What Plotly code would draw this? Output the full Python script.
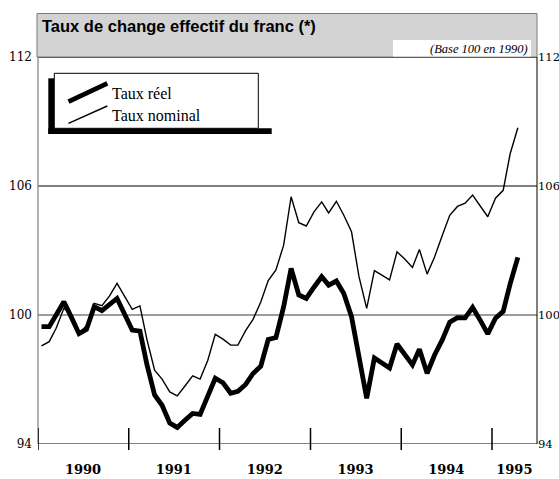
import plotly.graph_objects as go
import pandas as pd

# ---- data (monthly, Jan 1990 - Apr 1995) ----
months = pd.date_range("1990-01-01", periods=64, freq="MS") + pd.Timedelta(days=14)

taux_reel = [99.46, 99.46, 100.0, 100.62, 99.9, 99.13, 99.33, 100.39, 100.2, 100.47,
             100.77, 100.05, 99.3, 99.25, 97.7, 96.28, 95.8, 94.97, 94.77, 95.1,
             95.42, 95.38, 96.2, 97.06, 96.85, 96.36, 96.45, 96.77, 97.28, 97.62,
             98.86, 98.95, 100.39, 102.17, 100.93, 100.77, 101.29, 101.78, 101.39, 101.58,
             101.0, 99.92, 98.06, 96.13, 98.0, 97.78, 97.54, 98.65, 98.15, 97.68,
             98.41, 97.29, 98.14, 98.84, 99.67, 99.88, 99.87, 100.35, 99.75, 99.12,
             99.85, 100.17, 101.45, 102.68]

taux_nominal = [98.56, 98.76, 99.38, 100.31, 100.0, 99.15, 99.5, 100.54, 100.43, 100.88,
                101.47, 100.85, 100.26, 100.42, 98.87, 97.43, 97.02, 96.42, 96.24, 96.7,
                97.17, 97.02, 97.9, 99.1, 98.88, 98.6, 98.6, 99.27, 99.8, 100.6,
                101.6, 102.1, 103.25, 105.5, 104.29, 104.14, 104.8, 105.26, 104.75, 105.29,
                104.64, 103.87, 101.78, 100.31, 102.06, 101.85, 101.63, 102.94, 102.6, 102.21,
                103.05, 101.9, 102.7, 103.7, 104.64, 105.05, 105.2, 105.58, 105.07, 104.57,
                105.43, 105.8, 107.5, 108.71]

y_ticks = [94, 100, 106, 112]
year_labels = ["1990", "1991", "1992", "1993", "1994", "1995"]
year_label_pos = ["1990-07-01", "1991-07-01", "1992-07-01", "1993-07-01", "1994-07-01", "1995-04-01"]
year_bounds = ["1990-01-01", "1991-01-01", "1992-01-01", "1993-01-01", "1994-01-01", "1995-01-01"]

title_text = "Taux de change effectif du franc (*)"
subtitle_text = "(Base 100 en 1990)"
legend_labels = ["Taux réel", "Taux nominal"]

# ---- layout geometry ----
W, H = 559, 479
L, R, T, B = 38, 22, 57, 35
PW, PH = W - L - R, H - T - B


def px(x):
    return (x - L) / PW


def py(y):
    return (H - B - y) / PH


fig = go.Figure()
fig.add_trace(go.Scatter(x=months, y=taux_nominal, mode="lines",
                         line=dict(color="black", width=1.4), hoverinfo="skip",
                         name=legend_labels[1]))
fig.add_trace(go.Scatter(x=months, y=taux_reel, mode="lines",
                         line=dict(color="black", width=4.8), hoverinfo="skip",
                         name=legend_labels[0]))
# invisible trace to activate right-hand axis labels
fig.add_trace(go.Scatter(x=[months[0]], y=[y_ticks[0]], yaxis="y2", mode="lines",
                         line=dict(width=0), hoverinfo="skip", showlegend=False))

shapes = []
# title band
shapes.append(dict(type="rect", xref="paper", yref="paper", x0=px(37), x1=px(537),
                   y0=py(57), y1=py(13.5), fillcolor="#d3d3d3",
                   line=dict(color="#7a7a7a", width=1), layer="below"))
shapes.append(dict(type="rect", xref="paper", yref="paper", x0=px(393), x1=px(531),
                   y0=py(56.5), y1=py(40), fillcolor="white", line=dict(width=0), layer="below"))
# gridlines
grid_style = {94: ("#808080", 2), 100: ("#3a3a3a", 1), 106: ("#808080", 2), 112: ("black", 1)}
for v in y_ticks:
    c, w = grid_style[v]
    shapes.append(dict(type="line", xref="paper", yref="y", x0=0, x1=1, y0=v, y1=v,
                       line=dict(color=c, width=w), layer="below"))
# axes lines
shapes.append(dict(type="line", xref="paper", yref="paper", x0=0, x1=0, y0=0, y1=1,
                   line=dict(color="#808080", width=1.2), layer="below"))
shapes.append(dict(type="line", xref="paper", yref="paper", x0=1, x1=1, y0=0, y1=1,
                   line=dict(color="black", width=1), layer="below"))
# year boundary ticks
for d in year_bounds:
    shapes.append(dict(type="line", xref="x", yref="paper", x0=d, x1=d,
                       y0=py(450), y1=py(428), line=dict(color="black", width=1.5)))
# legend box with shadow
shapes.append(dict(type="rect", xref="paper", yref="paper", x0=px(48.3), x1=px(54.3),
                   y0=py(134), y1=py(78.3), fillcolor="black", line=dict(width=0)))
shapes.append(dict(type="rect", xref="paper", yref="paper", x0=px(48.3), x1=px(271.7),
                   y0=py(134), y1=py(128.3), fillcolor="black", line=dict(width=0)))
shapes.append(dict(type="rect", xref="paper", yref="paper", x0=px(54.3), x1=px(258.3),
                   y0=py(128.3), y1=py(73.3), fillcolor="white",
                   line=dict(color="black", width=1)))
shapes.append(dict(type="line", xref="paper", yref="paper", x0=px(68.5), x1=px(107.3),
                   y0=py(101.7), y1=py(83.3), line=dict(color="black", width=4.8)))
shapes.append(dict(type="line", xref="paper", yref="paper", x0=px(68.5), x1=px(107.3),
                   y0=py(123.3), y1=py(106), line=dict(color="black", width=1.4)))

annotations = []
annotations.append(dict(xref="paper", yref="paper", x=px(39.5), y=py(25.5), xanchor="left",
                        yanchor="middle", text="<b>" + title_text + "</b>", showarrow=False,
                        font=dict(family="Liberation Sans", size=16.5, color="black")))
annotations.append(dict(xref="paper", yref="paper", x=px(530), y=py(48.5), xanchor="right",
                        yanchor="middle", text="<i>" + subtitle_text + "</i>", showarrow=False,
                        font=dict(family="Liberation Serif", size=12.5, color="black")))
annotations.append(dict(xref="paper", yref="paper", x=px(109.5), y=py(93), xanchor="left",
                        yanchor="middle", text=legend_labels[0], showarrow=False,
                        font=dict(family="Liberation Serif", size=16, color="black")))
annotations.append(dict(xref="paper", yref="paper", x=px(109.5), y=py(115), xanchor="left",
                        yanchor="middle", text=legend_labels[1], showarrow=False,
                        font=dict(family="Liberation Serif", size=16, color="black")))

fig.update_layout(
    width=W, height=H,
    margin=dict(l=L, r=R, t=T, b=B, pad=0, autoexpand=False),
    paper_bgcolor="white", plot_bgcolor="white",
    showlegend=False,
    shapes=shapes, annotations=annotations,
    xaxis=dict(type="date", range=["1990-01-01", "1995-07-01"],
               tickmode="array", tickvals=year_label_pos, ticktext=year_labels,
               showgrid=False, zeroline=False, showline=False, ticks="",
               ticklabelstandoff=16, automargin=False,
               tickfont=dict(family="DejaVu Serif", size=13, color="black", weight="bold")),
    yaxis=dict(range=[94, 112], tickmode="array", tickvals=y_ticks,
               showgrid=False, zeroline=False, showline=False, ticks="",
               ticklabelstandoff=5, automargin=False,
               tickfont=dict(family="DejaVu Serif", size=12, color="black")),
    yaxis2=dict(range=[94, 112], tickmode="array", tickvals=y_ticks, overlaying="y",
                side="right", showgrid=False, zeroline=False, showline=False, ticks="",
                ticklabelstandoff=0, automargin=False,
                tickfont=dict(family="DejaVu Serif", size=11.5, color="black")),
)

fig.write_html("out.html", config={"displayModeBar": False},
               post_script="document.body.style.margin='0';")
